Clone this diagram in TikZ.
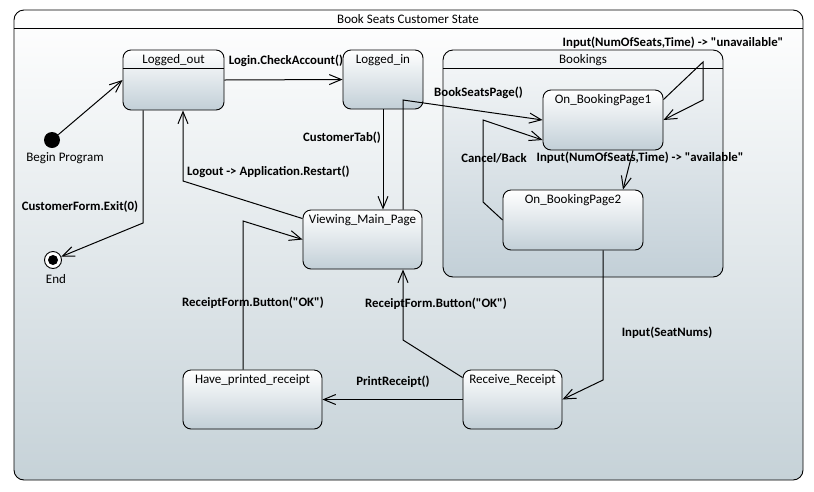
\documentclass[tikz,border=0pt]{standalone}
\usepackage{fontspec}
\setmainfont{Carlito}
\usetikzlibrary{arrows.meta}
\definecolor{framebot}{HTML}{C6D2D8}
\definecolor{statebot}{HTML}{C2CFD7}

\begin{document}
\begin{tikzpicture}[x=1pt,y=-1pt,font=\fontsize{13}{15}\selectfont]
\tikzset{
  state/.style={draw,line width=0.9pt,rounded corners=8pt,top color=white,bottom color=statebot,inner sep=0pt},
  sname/.style={anchor=north,inner sep=4.5pt},
  tr/.style={line width=1pt,-{Straight Barb[length=12pt,width=10pt]}},
  lbl/.style={font=\fontsize{12.8}{15}\selectfont\bfseries,inner sep=1pt}
}
\useasboundingbox (0,0) rectangle (814,491);
\draw[line width=0.9pt,rounded corners=10pt,top color=white,bottom color=framebot] (14,10) rectangle (803,480);
\draw[line width=0.9pt] (14,28) -- (803,28);
\node (title) at (408,19) {Book Seats Customer State};

\node[state,rounded corners=10pt,top color=white!85!statebot,minimum width=280,minimum height=227,
  label={[sname]north:Bookings}] (book) at (583,163.5) {};
\draw[line width=0.9pt] ([yshift=-19pt]book.north west) -- ([yshift=-19pt]book.north east);

\node[state,minimum width=101,minimum height=60,label={[sname]north:Logged\_out}] (lout) at (173.5,80) {};
\draw[line width=0.9pt] ([yshift=-19pt]lout.north west) -- ([yshift=-19pt]lout.north east);
\node[state,minimum width=80,minimum height=59,label={[sname]north:Logged\_in}] (lin) at (383,79.5) {};
\node[state,minimum width=119,minimum height=59,label={[sname]north:Viewing\_Main\_Page}] (view) at (362.5,239.5) {};
\node[state,minimum width=120,minimum height=60,label={[sname]north:On\_BookingPage1}] (bp1) at (603,120) {};
\node[state,minimum width=140,minimum height=60,label={[sname]north:On\_BookingPage2}] (bp2) at (573,220) {};
\node[state,minimum width=139,minimum height=59,label={[sname]north:Have\_printed\_receipt}] (have) at (252.5,399.5) {};
\node[state,minimum width=99,minimum height=59,label={[sname]north:Receive\_Receipt}] (recv) at (512.5,399.5) {};

\node[circle,fill,minimum size=16,inner sep=0pt] (init) at (52,140) {};
\node (initlbl) at (65,158) {Begin Program};
\node[circle,draw,fill=white,line width=0.9pt,minimum size=17,inner sep=0pt] (fin) at (53,260) {};
\node[circle,fill,minimum size=10,inner sep=0pt] (fincore) at (fin) {};
\node (finlbl) at (56,279) {End};

\coordinate (b1) at (143,223);
\coordinate (b2) at (183,181);
\coordinate (b3) at (403,100);
\coordinate (b4) at (703,62);
\coordinate (b5) at (703,100);
\coordinate (b6) at (483,202);
\coordinate (b7) at (483,120);
\coordinate (b8) at (603,380);
\coordinate (b9) at (403,340);
\coordinate (b10) at (243,221);

\draw[tr] (init) -- (lout.west);
\draw[tr] (lout.east) -- (lin.west);
\draw[tr] (b1 |- lout.south) -- (b1) -- (fin);
\draw[tr] (lin.south) -- (lin.south |- view.north);
\draw[tr] ([yshift=-9pt]view.north west) -- (b2) -- (b2 |- lout.south);
\draw[tr] (b3 |- view.north) -- (b3) -- (bp1.west);
\draw[tr] ([yshift=-10pt]bp1.north east) -- (b4) -- (b5) -- (bp1.east);
\draw[tr] ([xshift=30pt]bp1.south) -- ([xshift=50pt]bp2.north);
\draw[tr] (bp2.west) -- (b6) -- (b7) -- ([yshift=-20pt]bp1.west);
\draw[tr] ([xshift=30pt]bp2.south) -- (b8) -- (recv.east);
\draw[tr] (recv.west) -- (have.east);
\draw[tr] ([yshift=-8pt]recv.north west) -- (b9) -- (b9 |- view.south);
\draw[tr] (b10 |- have.north) -- (b10) -- (view.west);

\node[lbl] (lcheck) at (286,61) {Login.CheckAccount()};
\node[lbl] (lexit) at (80,207) {CustomerForm.Exit(0)};
\node[lbl] (ltab) at (342,138) {CustomerTab()};
\node[lbl,anchor=west] (llogout) at (186,172) {Logout -> Application.Restart()};
\node[lbl,anchor=west] (lbook) at (433,93) {BookSeatsPage()};
\node[lbl] (lunav) at (673,43) {Input(NumOfSeats,Time) -> \textquotedbl unavailable\textquotedbl};
\node[lbl] (lavail) at (640,158) {Input(NumOfSeats,Time) -> \textquotedbl available\textquotedbl};
\node[lbl] (lcancel) at (494,158) {Cancel/Back};
\node[lbl] (lseat) at (667,333) {Input(SeatNums)};
\node[lbl] (lprint) at (393,382) {PrintReceipt()};
\node[lbl] (lok1) at (253,303) {ReceiptForm.Button(\textquotedbl OK\textquotedbl)};
\node[lbl] (lok2) at (436,304) {ReceiptForm.Button(\textquotedbl OK\textquotedbl)};
\end{tikzpicture}
\end{document}
